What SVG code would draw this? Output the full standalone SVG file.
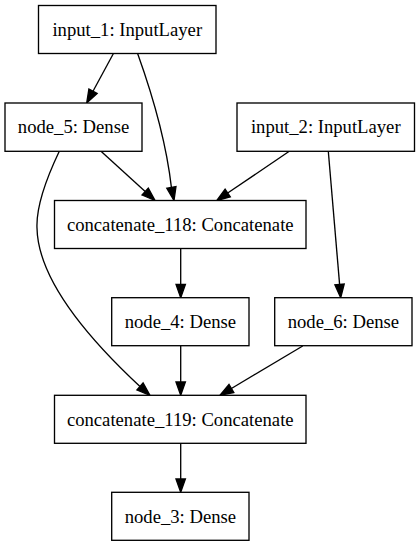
<svg xmlns="http://www.w3.org/2000/svg" width="420" height="547" viewBox="0 0 420 547">
<style>
.box{fill:#fff;stroke:#000;stroke-width:1.33}
text{font-family:'Liberation Serif','Times New Roman',Times,'DejaVu Serif',serif;font-size:18.67px;text-anchor:middle;fill:#000}
.edge path{fill:none;stroke:#000;stroke-width:1.33}
.edge polygon{fill:#000;stroke:#000;stroke-width:1.33}
</style>
<rect width="420" height="547" fill="#fff"/>
<g id="edges" class="edge">
<path d="M113.3,53.7 L93.0,91.3"/><polygon points="97.1,93.5 86.7,103 88.9,89.1"/>
<path d="M137.7,53.7 C150,88 166,140 171.4,187.4"/><polygon points="176.0,186.5 174,200.5 166.8,188.3"/>
<path d="M101,151.3 L145.2,191.5"/><polygon points="142.0,195.0 155,200.5 148.3,188.1"/>
<path d="M289.3,151.3 L227.7,193.0"/><polygon points="230.3,196.9 216.7,200.5 225.1,189.2"/>
<path d="M328.3,151.3 L339.6,284.4"/><polygon points="344.2,284.0 340.7,297.7 334.9,284.8"/>
<path d="M59.3,151.3 C48,175 36,205 37,228 C38,280 90,340 140,386.5"/><polygon points="136.9,390.0 150,395.3 143.1,383.0"/>
<path d="M180.7,248.5 V284.4"/><polygon points="176.0,284.4 180.7,297.7 185.4,284.4"/>
<path d="M180.7,345.7 V382"/><polygon points="176.0,382 180.7,395.3 185.4,382"/>
<path d="M302.7,346 L231.4,388.5"/><polygon points="233.8,392.5 220,395.3 229.0,384.5"/>
<path d="M180.7,443.3 V479"/><polygon points="176.0,479 180.7,492.3 185.4,479"/>
</g>
<g id="input_1"><rect class="box" x="38.5" y="5.5" width="177.5" height="48"/><text x="127.25" y="35.8" font-family="Liberation Serif, serif">input_1: InputLayer</text></g>
<g id="node_5"><rect class="box" x="5" y="103" width="137" height="48.3"/><text x="73.5" y="133.3" font-family="Liberation Serif, serif">node_5: Dense</text></g>
<g id="input_2"><rect class="box" x="237" y="103" width="177.5" height="48.3"/><text x="325.75" y="133.3" font-family="Liberation Serif, serif">input_2: InputLayer</text></g>
<g id="concatenate_118"><rect class="box" x="54.5" y="200.5" width="251.5" height="48"/><text x="180.25" y="230.8" font-family="Liberation Serif, serif">concatenate_118: Concatenate</text></g>
<g id="node_4"><rect class="box" x="111.7" y="297.7" width="137.3" height="48"/><text x="180.35" y="328" font-family="Liberation Serif, serif">node_4: Dense</text></g>
<g id="node_6"><rect class="box" x="274.7" y="297.7" width="137.3" height="48"/><text x="343.35" y="328" font-family="Liberation Serif, serif">node_6: Dense</text></g>
<g id="concatenate_119"><rect class="box" x="54.5" y="395.3" width="251.5" height="48"/><text x="180.25" y="425.6" font-family="Liberation Serif, serif">concatenate_119: Concatenate</text></g>
<g id="node_3"><rect class="box" x="111.7" y="492.3" width="137.3" height="48"/><text x="180.35" y="522.6" font-family="Liberation Serif, serif">node_3: Dense</text></g>
</svg>
